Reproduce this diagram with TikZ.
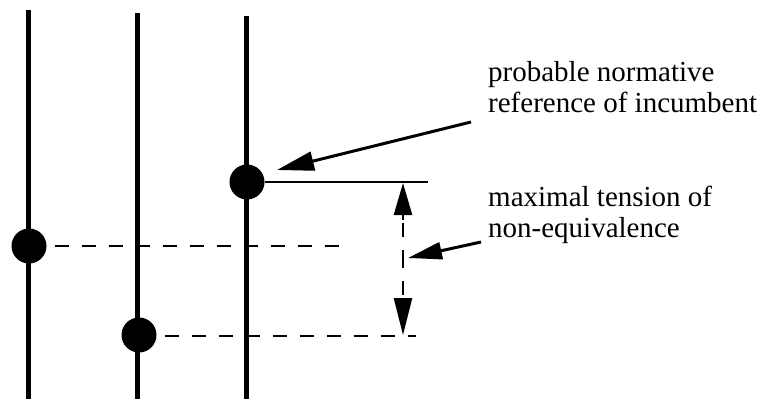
\documentclass[tikz,border=0pt]{standalone}
\usepackage{fontspec}
\setmainfont{Liberation Serif}
\usetikzlibrary{arrows.meta}
\begin{document}
\begin{tikzpicture}[x=1pt,y=-1pt,
  pole/.style={line width=5pt},
  dot/.style={circle,fill=black,inner sep=0pt,minimum size=35pt},
  lvl/.style={line width=2.5pt},
  dsh/.style={line width=2.5pt,dash pattern=on 14pt off 13pt},
  lbl/.style={anchor=base west,align=left,inner sep=0pt,font=\fontsize{29}{31}\selectfont},
  ptr/.style={line width=3pt,-{Triangle[length=37pt,width=19pt]}}]
\useasboundingbox (0,0) rectangle (762,399);
% poles
\coordinate (p1t) at (28,10);  \coordinate (p1b) at (28,399);
\coordinate (p2t) at (137,13); \coordinate (p2b) at (137,399);
\coordinate (p3t) at (246,16); \coordinate (p3b) at (246,399);
\draw[pole] (p1t) -- (p1b);
\draw[pole] (p2t) -- (p2b);
\draw[pole] (p3t) -- (p3b);
% dots
\node[dot] (d3) at (247,182) {};
\node[dot] (d1) at (29,246) {};
\node[dot] (d2) at (139,335) {};
% levels
\coordinate (e3) at (428,182);
\coordinate (e1) at (349,246);
\coordinate (e2) at (416,336);
\draw[lvl] (d3) -- (e3);
\draw[dsh,dash phase=-8pt] (d1.east) -- (e1);
\draw[dsh,dash phase=-8pt] (d2.east |- e2) -- (e2);
% tension arrow
\coordinate (ta) at (403,183);
\coordinate (tb) at (403,335);
\coordinate (tm) at (403,259);
\draw[dsh,dash phase=5pt] (tm) -- (403,205);
\draw[dsh,dash phase=5pt] (tm) -- (403,310);
\draw[lvl,-{Triangle[length=32pt,width=18pt]}] (403,220) -- (ta);
\draw[lvl,-{Triangle[length=37pt,width=18pt]}] (403,298) -- (tb);
% labels
\node[lbl] (l1) at (488,112) {probable normative\\reference of incumbent};
\node[lbl] (l2) at (488,237) {maximal tension of\\non-equivalence};
\coordinate (a1) at (471,122);
\coordinate (h1) at (277,170);
\coordinate (a2) at (481,242);
\coordinate (h2) at (408,258);
\draw[ptr] (a1) -- (h1);
\draw[line width=3pt,-{Triangle[length=34pt,width=17pt]}] (a2) -- (h2);
\end{tikzpicture}
\end{document}
